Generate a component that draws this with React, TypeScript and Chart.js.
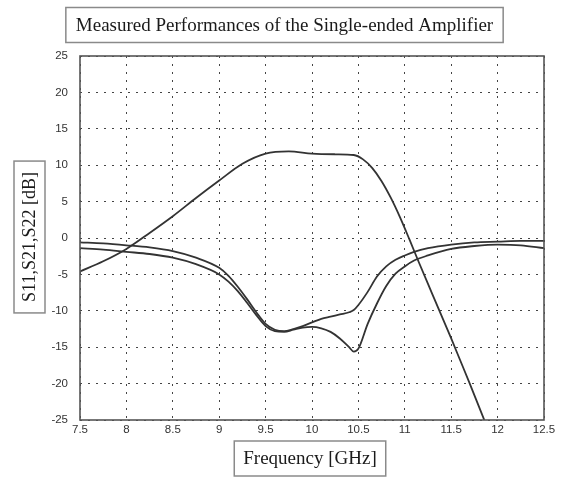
import React, { useEffect, useRef } from "react";
import { Chart, registerables } from "chart.js";

Chart.register(...registerables);

const TITLE = "Measured Performances of the Single-ended Amplifier";
const X_LABEL = "Frequency [GHz]";
const Y_LABEL = "S11,S21,S22 [dB]";

const xTicks = [7.5, 8, 8.5, 9, 9.5, 10, 10.5, 11, 11.5, 12, 12.5];
const xTickLabels = ["7.5", "8", "8.5", "9", "9.5", "10", "10.5", "11", "11.5", "12", "12.5"];
const yTicks = [-25, -20, -15, -10, -5, 0, 5, 10, 15, 20, 25];

const freqS21 = [7.5, 7.75, 8.0, 8.25, 8.5, 8.75, 9.0, 9.25, 9.5, 9.75, 10.0, 10.25, 10.45, 10.55, 10.65, 10.75, 10.85, 10.95, 11.05, 11.15, 11.3, 11.4, 11.5, 11.6, 11.7, 11.8, 11.9];
const s21 = [-4.6, -3.2, -1.5, 0.7, 3.0, 5.5, 7.9, 10.2, 11.6, 11.9, 11.6, 11.5, 11.4, 10.8, 9.6, 7.8, 5.5, 2.8, -0.2, -3.3, -7.8, -10.8, -13.8, -16.9, -20.0, -23.2, -26.4];

const freqRefl = [7.5, 7.75, 8.0, 8.25, 8.5, 8.75, 9.0, 9.1, 9.2, 9.3, 9.4, 9.5, 9.6, 9.7, 9.8, 9.9, 10.0, 10.1, 10.2, 10.3, 10.4, 10.45, 10.5, 10.6, 10.7, 10.8, 10.9, 11.0, 11.1, 11.25, 11.5, 11.75, 12.0, 12.25, 12.5];
const s11 = [-0.6, -0.75, -1.0, -1.3, -1.8, -2.7, -4.1, -5.2, -6.7, -8.4, -10.2, -11.8, -12.6, -12.8, -12.5, -12.1, -11.6, -11.1, -10.8, -10.5, -10.2, -9.9, -9.2, -7.4, -5.3, -3.9, -3.0, -2.4, -1.9, -1.4, -0.9, -0.6, -0.5, -0.4, -0.4];
const s22 = [-1.4, -1.6, -1.9, -2.2, -2.7, -3.6, -5.0, -6.0, -7.3, -8.9, -10.6, -12.1, -12.8, -12.9, -12.6, -12.3, -12.2, -12.4, -12.9, -13.8, -15.0, -15.6, -15.2, -11.8, -9.0, -6.6, -4.9, -3.9, -3.1, -2.4, -1.5, -1.1, -0.9, -1.0, -1.4];

const toPoints = (xs: number[], ys: number[]) => xs.map((x, i) => ({ x, y: ys[i] }));

const SERIF = "'Liberation Serif', 'Times New Roman', serif";
const SANS = "'Liberation Sans', Arial, sans-serif";

const boxesPlugin = {
  id: "boxes",
  afterDraw(chart: any) {
    const { ctx, chartArea } = chart;
    const { left, right, top, bottom } = chartArea;
    ctx.save();
    // plot frame
    ctx.strokeStyle = "#555";
    ctx.lineWidth = 1.6;
    ctx.strokeRect(left, top, right - left, bottom - top);

    const cx = (left + right) / 2;
    const boxStroke = "#8a8a8a";

    // title box
    ctx.font = `19px ${SERIF}`;
    ctx.fillStyle = "#1a1a1a";
    ctx.textAlign = "center";
    ctx.textBaseline = "middle";
    const tw = ctx.measureText(TITLE).width;
    const tcx = chart.width / 2 + 2;
    ctx.fillText(TITLE, tcx, 26);
    ctx.strokeStyle = boxStroke;
    ctx.lineWidth = 1.5;
    ctx.strokeRect(tcx - tw / 2 - 10, 7.5, tw + 20, 35);

    // x label box
    ctx.font = `19px ${SERIF}`;
    const xw = ctx.measureText(X_LABEL).width;
    const xcy = 458;
    ctx.fillText(X_LABEL, cx - 2, xcy + 1);
    ctx.strokeRect(cx - 2 - xw / 2 - 9, xcy - 17, xw + 18, 35);

    // y label box (rotated)
    ctx.font = `18px ${SERIF}`;
    const yw = ctx.measureText(Y_LABEL).width;
    const ycx = 29.5;
    const ycy = (top + bottom) / 2 - 1;
    ctx.save();
    ctx.translate(ycx, ycy);
    ctx.rotate(-Math.PI / 2);
    ctx.fillText(Y_LABEL, 0, 1);
    ctx.restore();
    ctx.strokeRect(ycx - 15.5, ycy - yw / 2 - 11, 31, yw + 22);

    ctx.restore();
  },
};

export default function App() {
  const ref = useRef<HTMLCanvasElement | null>(null);

  useEffect(() => {
    document.body.style.margin = "0";
    if (!ref.current) return;
    const lineStyle = {
      borderColor: "#333",
      borderWidth: 1.8,
      pointRadius: 0,
      fill: false,
      cubicInterpolationMode: "monotone" as const,
    };
    const chart = new Chart(ref.current, {
      type: "line",
      data: {
        datasets: [
          { label: "S21", data: toPoints(freqS21, s21), ...lineStyle },
          { label: "S11", data: toPoints(freqRefl, s11), ...lineStyle },
          { label: "S22", data: toPoints(freqRefl, s22), ...lineStyle },
        ],
      },
      options: {
        animation: false,
        responsive: true,
        maintainAspectRatio: false,
        layout: { padding: { top: 56, right: 21, left: 0, bottom: 0 } },
        plugins: {
          legend: { display: false },
          title: { display: false },
          tooltip: { enabled: false },
        },
        scales: {
          x: {
            type: "linear",
            min: 7.5,
            max: 12.5,
            afterBuildTicks: (scale: any) => {
              scale.ticks = xTicks.map((v) => ({ value: v }));
            },
            afterFit: (scale: any) => {
              scale.height = 58;
            },
            ticks: {
              padding: 3,
              color: "#333",
              font: { family: SANS, size: 11.5 },
              maxRotation: 0,
              autoSkip: false,
              callback: (v: any) => {
                const i = xTicks.indexOf(Number(v));
                return i >= 0 ? xTickLabels[i] : "";
              },
            },
            grid: {
              color: "#444",
              lineWidth: 1,
              drawTicks: false,
            },
            border: { display: false, dash: [2, 6] },
          },
          y: {
            type: "linear",
            min: -25,
            max: 25,
            afterBuildTicks: (scale: any) => {
              scale.ticks = yTicks.map((v) => ({ value: v }));
            },
            afterFit: (scale: any) => {
              scale.width = 80;
            },
            ticks: {
              padding: 12,
              color: "#333",
              font: { family: SANS, size: 11.5 },
              autoSkip: false,
            },
            grid: {
              color: "#444",
              lineWidth: 1,
              drawTicks: false,
            },
            border: { display: false, dash: [2, 6] },
          },
        },
      },
      plugins: [boxesPlugin],
    });
    return () => chart.destroy();
  }, []);

  return (
    <div style={{ position: "relative", width: 565, height: 478 }}>
      <canvas ref={ref} />
    </div>
  );
}
